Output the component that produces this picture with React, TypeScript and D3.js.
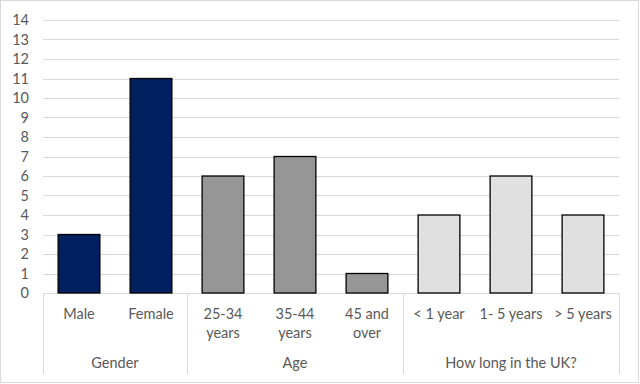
import React, { useRef, useEffect } from 'react'
import * as d3 from 'd3'

const categories = ['Male', 'Female', '25-34 years', '35-44 years', '45 and over', '< 1 year', '1- 5 years', '> 5 years']
const categoryLines = [['Male'], ['Female'], ['25-34', 'years'], ['35-44', 'years'], ['45 and', 'over'], ['< 1 year'], ['1- 5 years'], ['> 5 years']]
const values = [3, 11, 6, 7, 1, 4, 6, 4]
const groups = [
  { name: 'Gender', start: 0, count: 2, color: '#002060' },
  { name: 'Age', start: 2, count: 3, color: '#969696' },
  { name: 'How long in the UK?', start: 5, count: 3, color: '#e0e0e0' },
]
const yTicks = d3.range(0, 15)

export default function App() {
  const svgRef = useRef<SVGSVGElement>(null)
  const width = 640
  const height = 384

  useEffect(() => {
    document.body.style.margin = '0'
    if (!svgRef.current) return
    const svg = d3.select(svgRef.current)
    svg.selectAll('*').remove()

    const margin = { top: 20, right: 21, bottom: 91, left: 43 }
    const innerWidth = width - margin.left - margin.right
    const innerHeight = height - margin.top - margin.bottom
    const font = 'Lato, "Open Sans", sans-serif'
    const fontSize = '14.5px'
    const textColor = '#595959'

    // chart frame
    svg.append('rect')
      .attr('x', 0.5).attr('y', 0.5)
      .attr('width', width - 2).attr('height', height - 2)
      .attr('fill', '#fff').attr('stroke', '#d9d9d9')

    const g = svg.append('g').attr('transform', `translate(${margin.left},${margin.top})`)

    const xScale = d3.scaleBand().domain(categories).range([0, innerWidth]).paddingInner(0.42).paddingOuter(0.21)
    const step = innerWidth / categories.length
    const yScale = d3.scaleLinear().domain([0, 14]).range([innerHeight, 0])

    // grid
    g.selectAll('.grid')
      .data(yTicks)
      .enter()
      .append('line')
      .attr('x1', 0).attr('x2', innerWidth)
      .attr('y1', d => Math.round(yScale(d)) + 0.5)
      .attr('y2', d => Math.round(yScale(d)) + 0.5)
      .attr('stroke', '#d9d9d9').attr('stroke-width', 1)

    // y labels
    g.selectAll('.ylab')
      .data(yTicks)
      .enter()
      .append('text')
      .attr('x', -14)
      .attr('y', d => yScale(d))
      .attr('dy', '0.35em')
      .attr('text-anchor', 'end')
      .style('font-family', font).style('font-size', fontSize).style('fill', textColor)
      .text(d => d)

    // bars
    const colorOf = (i: number) => groups.find(gr => i >= gr.start && i < gr.start + gr.count)!.color
    g.selectAll('.bar')
      .data(values)
      .enter()
      .append('rect')
      .attr('x', (_, i) => xScale(categories[i])!)
      .attr('y', d => yScale(d))
      .attr('width', xScale.bandwidth())
      .attr('height', d => innerHeight - yScale(d))
      .attr('fill', (_, i) => colorOf(i))
      .attr('stroke', '#000').attr('stroke-width', 1.3)

    // category separators
    const seps = [0, ...groups.map(gr => gr.start + gr.count)]
    g.selectAll('.sep')
      .data(seps)
      .enter()
      .append('line')
      .attr('x1', d => Math.round(d * step) + 0.5)
      .attr('x2', d => Math.round(d * step) + 0.5)
      .attr('y1', innerHeight).attr('y2', innerHeight + 81)
      .attr('stroke', '#d9d9d9')

    // category labels
    categoryLines.forEach((lines, i) => {
      const cx = xScale(categories[i])! + xScale.bandwidth() / 2
      lines.forEach((ln, j) => {
        g.append('text')
          .attr('x', cx).attr('y', innerHeight + 26 + j * 19)
          .attr('text-anchor', 'middle')
          .style('font-family', font).style('font-size', fontSize).style('fill', textColor)
          .text(ln)
      })
    })

    // group labels
    g.selectAll('.glab')
      .data(groups)
      .enter()
      .append('text')
      .attr('x', d => (d.start + d.count / 2) * step)
      .attr('y', innerHeight + 75)
      .attr('text-anchor', 'middle')
      .style('font-family', font).style('font-size', fontSize).style('fill', textColor)
      .text(d => d.name)
  }, [])

  return <svg ref={svgRef} width={width} height={height} style={{ display: 'block' }} />
}
